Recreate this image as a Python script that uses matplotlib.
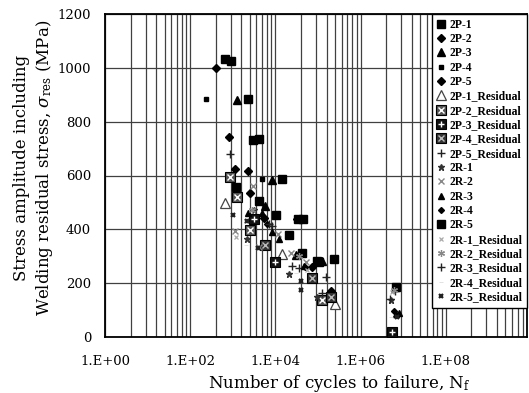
import matplotlib
matplotlib.use("Agg")
import matplotlib.pyplot as plt
import numpy as np
from matplotlib.legend_handler import HandlerTuple

plt.rcParams['font.family'] = ['DejaVu Serif']
plt.rcParams['mathtext.fontset'] = 'dejavuserif'

# cycles to failure (N) and stress amplitude incl. residual stress (MPa)
p1_n = [650, 2240, 3020, 14500, 10500, 41700, 240000]
p1_s = [1033, 883, 732, 586, 454, 311, 290]
p2_n = [398, 813, 1150, 2570, 74100]
p2_s = [1000, 742, 623, 534, 261]
p3_n = [1230, 8130, 5750, 30200, 126000]
p3_s = [880, 583, 487, 305, 282]
p4_n = [229, 4790]
p4_s = [883, 586]
p5_n = [2340, 5500, 31600, 200000]
p5_s = [618, 442, 437, 172]
p1r_n = [645, 14500, 251000]
p1r_s = [499, 308, 123]
p2r_n = [871, 1230, 2570, 123000]
p2r_s = [593, 519, 397, 137]
p3r_n = [3160, 9550, 5.6e6]
p3r_s = [440, 280, 20]
p4r_n = [5620, 72400, 204000]
p4r_s = [343, 218, 147]
p5r_n = [851, 8130, 35500, 151000, 6.3e6]
p5r_s = [680, 412, 255, 224, 170]

r1_n = [3160, 2190, 20400, 93300, 5.1e6]
r1_s = [472, 363, 234, 150, 137]
r2_n = [2950, 1100, 11700, 23400, 52500, 4170]
r2_s = [561, 395, 383, 311, 280, 335]
r3_n = [4790, 2240, 8130, 12300, 46800, 6.76e6, 7.9e6]
r3_s = [462, 459, 391, 363, 264, 85, 90]
r4_n = [6310, 50100, 6.0e6]
r4_s = [420, 260, 95]
r5_n = [890, 4070, 1175, 4170, 33900, 45700, 20400, 93300, 107000, 6.76e6]
r5_s = [1024, 737, 556, 506, 437, 437, 380, 282, 280, 187]
r1r_n = [1175, 2000, 55000, 5.4e6]
r1r_s = [370, 430, 249, 168]
r2r_n = [2820, 35500, 6.0e6]
r2r_s = [470, 300, 175]
r3r_n = [7080, 25100, 123000, 5.0e6]
r3r_s = [420, 265, 165, 140]
r4r_n = [2000, 30200, 5.25e6]
r4r_s = [340, 239, 75]
r5r_n = [1020, 2190, 3980, 39800, 40700, 7.1e6]
r5r_s = [453, 432, 330, 209, 175, 75]

xtick_vals = [1, 1e2, 1e4, 1e6, 1e8]
xtick_labels = ["1.E+00", "1.E+02", "1.E+04", "1.E+06", "1.E+08"]
ytick_vals = [0, 200, 400, 600, 800, 1000, 1200]

fig = plt.figure(figsize=(5.29, 3.93), dpi=100)
ax = fig.add_axes([105/529, 1-337/393, (527-105)/529, (337-14)/393])
ax.set_xscale('log')


def pts(n, s, **kw):
    line, = ax.plot(n, s, ls='none', zorder=3, **kw)
    return line


def boxed(n, s, face, inner, inner_col, ms=6.5):
    base = pts(n, s, marker='s', ms=ms, mfc=face, mec='black', mew=0.8)
    top = pts(n, s, marker=inner, ms=ms*0.6, mfc='none', mec=inner_col, mew=1.0)
    return (base, top)


handles = [
    pts(p1_n, p1_s, marker='s', ms=6, color='black'),
    pts(p2_n, p2_s, marker='D', ms=4.5, color='black'),
    pts(p3_n, p3_s, marker='^', ms=6, color='black'),
    pts(p4_n, p4_s, marker='s', ms=3.5, color='black'),
    pts(p5_n, p5_s, marker='D', ms=4.5, color='black'),
    pts(p1r_n, p1r_s, marker='^', ms=7, mfc='white', mec='#444444', mew=0.9),
    boxed(p2r_n, p2r_s, '#555555', 'x', 'white'),
    boxed(p3r_n, p3r_s, '#111111', '+', 'white'),
    boxed(p4r_n, p4r_s, '#333333', 'x', '#bbbbbb'),
    pts(p5r_n, p5r_s, marker='+', ms=6, color='#222222', mew=1.0),
    pts(r1_n, r1_s, marker='*', ms=4.5, color='#333333'),
    pts(r2_n, r2_s, marker='x', ms=5, color='#888888', mew=1.0),
    pts(r3_n, r3_s, marker='^', ms=4, color='black'),
    pts(r4_n, r4_s, marker='D', ms=3, color='black'),
    pts(r5_n, r5_s, marker='s', ms=6, color='black'),
    pts(r1r_n, r1r_s, marker='x', ms=3.5, color='#aaaaaa', mew=0.9),
    pts(r2r_n, r2r_s, marker=(6, 2, 0), ms=5, color='#888888', mew=0.9),
    pts(r3r_n, r3r_s, marker='+', ms=6, color='#222222', mew=1.0),
    pts(r4r_n, r4r_s, marker='_', ms=3, color='#dddddd', mew=0.6),
    pts(r5r_n, r5r_s, marker='x', ms=3, color='#222222', mew=1.6),
]
labels = ["2P-1", "2P-2", "2P-3", "2P-4", "2P-5",
          "2P-1_Residual", "2P-2_Residual", "2P-3_Residual", "2P-4_Residual", "2P-5_Residual",
          "2R-1", "2R-2", "2R-3", "2R-4", "2R-5",
          "2R-1_Residual", "2R-2_Residual", "2R-3_Residual", "2R-4_Residual", "2R-5_Residual"]

ax.set_xlim(1, 10**9.31)
ax.set_ylim(0, 1200)

minor = [100.0**e * k**2 for e in range(5) for k in range(2, 10)]
ax.set_xticks(xtick_vals)
ax.set_xticklabels(xtick_labels)
ax.set_xticks(minor, minor=True)
ax.set_xticklabels([], minor=True)
ax.set_yticks(ytick_vals)
ax.tick_params(which='both', length=0, labelsize=9.5)
ax.tick_params(axis='y', pad=10)
ax.tick_params(axis='x', pad=13)
ax.grid(True, which='both', axis='x', color='#404040', lw=0.9)
ax.grid(True, which='major', axis='y', color='#404040', lw=0.9)
ax.set_axisbelow(True)
for sp in ax.spines.values():
    sp.set_linewidth(1.3)

leg = ax.legend(handles, labels, loc='upper right', bbox_to_anchor=(1, 1),
                borderaxespad=0, fancybox=False, framealpha=1, edgecolor='black',
                prop={'family': 'Liberation Serif', 'weight': 'bold', 'size': 8.4},
                handlelength=0.8, handletextpad=0.3, borderpad=0.4,
                labelspacing=0.2, numpoints=1,
                handler_map={tuple: HandlerTuple(ndivide=1)})
leg.get_frame().set_linewidth(1.0)
leg.set_zorder(5)

fig.text(339/529, 1-383/393, r"Number of cycles to failure, N$_{\rm f}$",
         ha='center', va='center', fontsize=12)
fig.text(34/529, 1-168/393,
         "Stress amplitude including\n" + r"Welding residual stress, $\sigma_{\rm res}$ (MPa)",
         ha='center', va='center', rotation=90, fontsize=12, linespacing=1.3)

fig.savefig("out.png", dpi=100)
